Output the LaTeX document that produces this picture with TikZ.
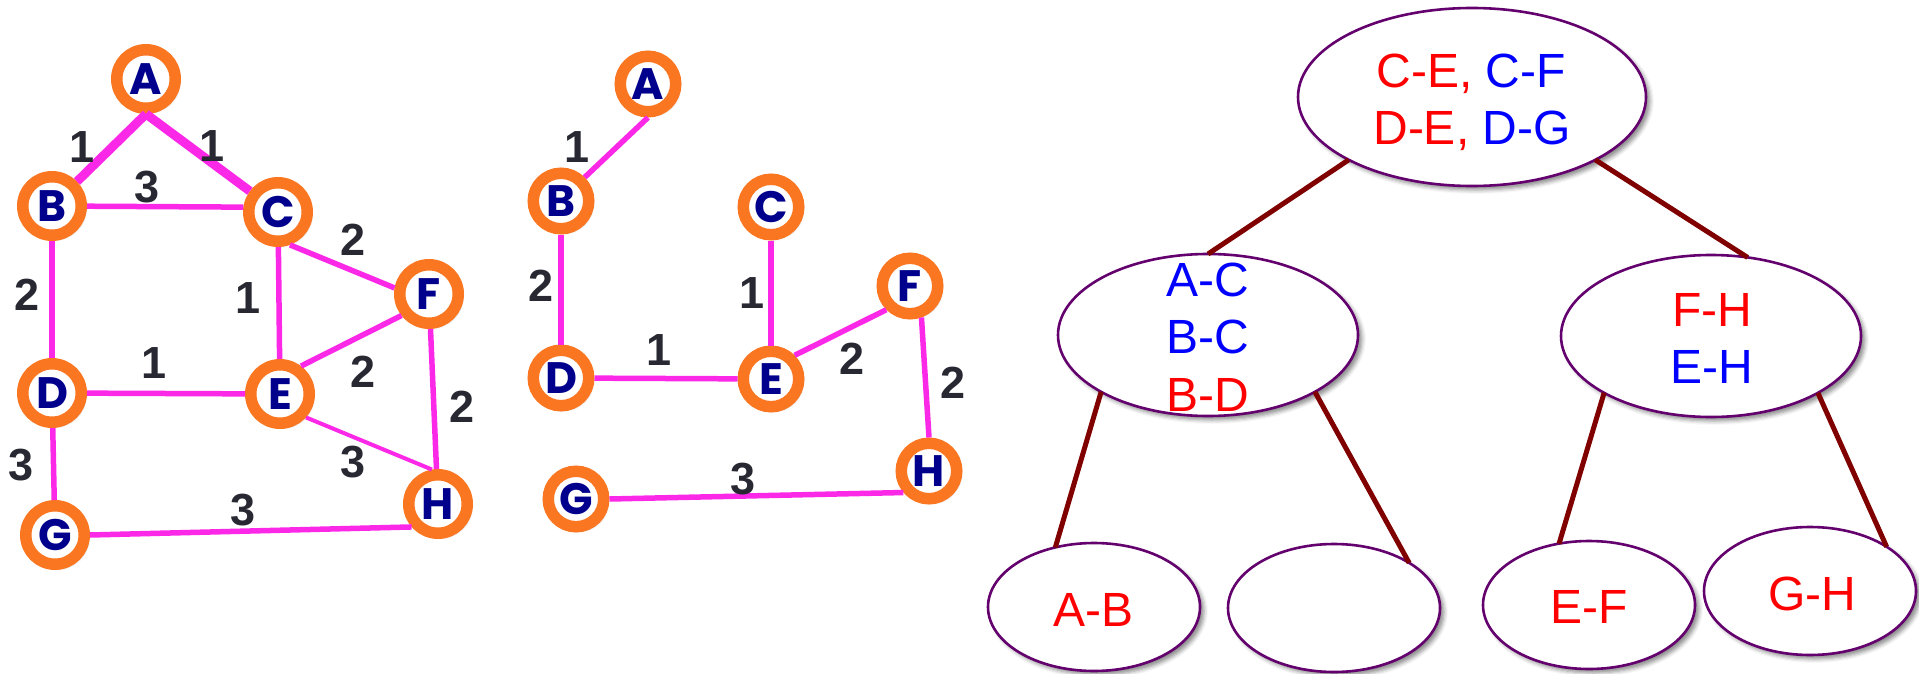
\documentclass[tikz,border=0pt]{standalone}
\usepackage{fontspec}
\setmainfont{Liberation Sans}
\newfontfamily\letterfont{Poppins}
\usetikzlibrary{shapes.geometric,shadows.blur}
\definecolor{ringor}{RGB}{250,118,32}
\definecolor{edgemag}{RGB}{252,40,232}
\definecolor{navyl}{RGB}{0,0,140}
\definecolor{wtgray}{RGB}{40,40,50}
\definecolor{treered}{RGB}{128,0,0}
\definecolor{ellpurple}{RGB}{100,0,110}
\definecolor{txtred}{RGB}{255,0,0}
\definecolor{txtblue}{RGB}{0,0,255}
\begin{document}
\begin{tikzpicture}[x=1pt,y=-1pt,
  vtx/.style={circle, draw=ringor, fill=white, line width=11.5pt, minimum size=58.5pt, inner sep=0pt,
    font=\letterfont\bfseries\fontsize{44}{44}\selectfont, text=navyl,
    blur shadow={shadow xshift=3pt, shadow yshift=-3pt, shadow blur radius=3pt, shadow opacity=45}},
  vtxm/.style={vtx, minimum size=55.5pt},
  wt/.style={font=\bfseries\fontsize{45}{45}\selectfont, text=wtgray, inner sep=0pt},
  gedge/.style={draw=edgemag, line width=5.5pt},
  gthick/.style={draw=edgemag, line width=9pt},
  gthin/.style={draw=edgemag, line width=4pt},
  tell/.style={ellipse, draw=ellpurple, fill=white, line width=2.6pt, inner sep=0pt, outer sep=0pt,
    blur shadow={shadow xshift=4pt, shadow yshift=-4pt, shadow blur radius=4pt, shadow opacity=45}},
  bigell/.style={tell, minimum width=300pt, minimum height=162pt},
  smallell/.style={tell, minimum width=212pt, minimum height=128pt},
  tt/.style={font=\fontsize{48}{48}\selectfont, inner sep=0pt, anchor=base},
  tline/.style={draw=treered, line width=5pt}
]
\useasboundingbox (0,0) rectangle (1919,674);

% ---------------- left graph ----------------
\node[vtx] (lA) at (146,79) {A};
\node[vtx] (lB) at (52,206) {B};
\node[vtx] (lC) at (278,212) {C};
\node[vtx] (lF) at (429,294) {F};
\node[vtx] (lD) at (52,393) {D};
\node[vtx] (lE) at (280,394) {E};
\node[vtx] (lG) at (55,535) {G};
\node[vtx] (lH) at (438,504) {H};

\draw[gthick] (lA.south) -- (lB);
\draw[gthick] (lA.south) -- (lC);
\draw[gedge] (lB) -- (lC.172);
\draw[gedge] (lC.-70) -- (lF.170);
\draw[gedge] (lB) -- (lD);
\draw[gedge] (lC) -- (lE);
\draw[gedge] (lD) -- (lE);
\draw[gedge] (lE.53) -- (lF.218);
\draw[gthin] (lE.-42) -- (lH.100);
\draw[gedge] (lF) -- (lH);
\draw[gedge] (lD) -- (lG);
\draw[gedge] (lG.east) -- (lH.221);

\node[wt] (lwAB) at (82,147) {1};
\node[wt] (lwAC) at (212,146) {1};
\node[wt] (lwBC) at (147,187) {3};
\node[wt] (lwCF) at (353,240) {2};
\node[wt] (lwBD) at (27,295) {2};
\node[wt] (lwCE) at (248,298) {1};
\node[wt] (lwDE) at (154,363) {1};
\node[wt] (lwEF) at (363,372) {2};
\node[wt] (lwFH) at (462,407) {2};
\node[wt] (lwDG) at (21,465) {3};
\node[wt] (lwEH) at (353,462) {3};
\node[wt] (lwGH) at (243,510) {3};

% ---------------- middle graph (spanning tree) ----------------
\node[vtxm] (mA) at (648,84) {A};
\node[vtxm] (mB) at (561,201) {B};
\node[vtxm] (mC) at (771,207) {C};
\node[vtxm] (mF) at (910,286) {F};
\node[vtxm] (mD) at (561,378) {D};
\node[vtxm] (mE) at (771,379) {E};
\node[vtxm] (mH) at (929,471) {H};
\node[vtxm] (mG) at (576,499) {G};

\draw[gedge] (mA.-90) -- (mB.45);
\draw[gedge] (mB) -- (mD);
\draw[gedge] (mC) -- (mE);
\draw[gedge] (mD) -- (mE);
\draw[gedge] (mE.45) -- (mF.225);
\draw[gedge] (mF.-70) -- (mH.north);
\draw[gedge] (mG.east) -- (mH.220);

\node[wt] (mwAB) at (577,147) {1};
\node[wt] (mwBD) at (541,286) {2};
\node[wt] (mwCE) at (752,293) {1};
\node[wt] (mwDE) at (659,350) {1};
\node[wt] (mwEF) at (852,359) {2};
\node[wt] (mwFH) at (953,383) {2};
\node[wt] (mwGH) at (743,479) {3};

% ---------------- tree ----------------
\node[tell, minimum width=348pt, minimum height=178pt] (root) at (1472,97) {};
\node[bigell] (tL) at (1208,335) {};
\node[bigell] (tR) at (1711,336) {};
\node[smallell] (tAB) at (1094,607) {};
\node[smallell] (tX) at (1334,608) {};
\node[smallell] (tEF) at (1589,605) {};
\node[smallell] (tGH) at (1810,591) {};

\draw[tline] (root.207) -- (tL.90);
\draw[tline] (root.-27) -- (tR.65);
\draw[tline] (tL.208.7) -- (tAB.123.7);
\draw[tline] (tL.-28) -- (tX.31);
\draw[tline] (tR.208.5) -- (tEF.116.6);
\draw[tline] (tR.-28) -- (tGH.30.3);

\node[tt] (rt1) at (1471,88) {\textcolor{txtred}{C-E,} \textcolor{txtblue}{C-F}};
\node[tt] (rt2) at (1472,145) {\textcolor{txtred}{D-E,} \textcolor{txtblue}{D-G}};
\node[tt, text=txtblue] (lt1) at (1208,296) {A-C};
\node[tt, text=txtblue] (lt2) at (1208,353) {B-C};
\node[tt, text=txtred] (lt3) at (1208,411) {B-D};
\node[tt, text=txtred] (rr1) at (1712,326) {F-H};
\node[tt, text=txtblue] (rr2) at (1712,383) {E-H};
\node[tt, text=txtred] (abt) at (1093,626) {A-B};
\node[tt, text=txtred] (eft) at (1589,623) {E-F};
\node[tt, text=txtred] (ght) at (1812,610) {G-H};
\end{tikzpicture}
\end{document}
